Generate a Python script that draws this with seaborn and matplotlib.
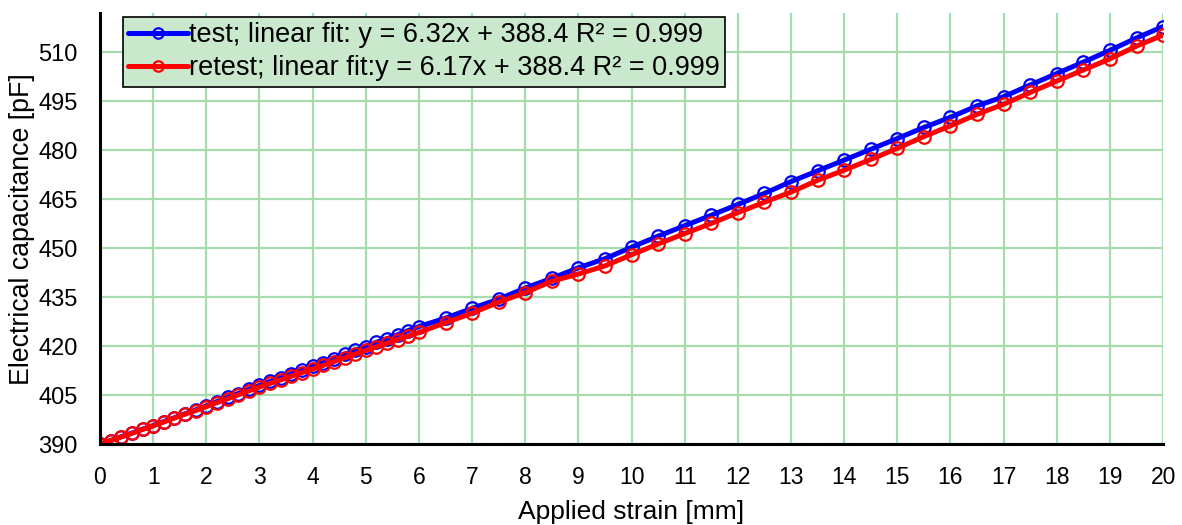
import matplotlib
matplotlib.use("Agg")
import matplotlib.pyplot as plt
import seaborn as sns
import pandas as pd

strain_fine = [0.0, 0.2, 0.4, 0.6, 0.8, 1.0, 1.2, 1.4, 1.6, 1.8, 2.0, 2.2, 2.4, 2.6, 2.8, 3.0,
               3.2, 3.4, 3.6, 3.8, 4.0, 4.2, 4.4, 4.6, 4.8, 5.0, 5.2, 5.4, 5.6, 5.8, 6.0]
strain_coarse = [6.5, 7.0, 7.5, 8.0, 8.5, 9.0, 9.5, 10.0, 10.5, 11.0, 11.5, 12.0, 12.5, 13.0,
                 13.5, 14.0, 14.5, 15.0, 15.5, 16.0, 16.5, 17.0, 17.5, 18.0, 18.5, 19.0, 19.5, 20.0]
strain = strain_fine + strain_coarse

test_values = [390.0, 391.1, 392.3, 393.4, 394.6, 395.7, 396.9, 398.1, 399.3, 400.5, 401.7,
               403.0, 404.3, 405.5, 406.8, 408.0, 409.2, 410.3, 411.5, 412.6, 413.8, 415.0,
               416.2, 417.5, 418.7, 419.9, 421.2, 422.3, 423.5, 424.8, 426.0,
               428.6, 431.6, 434.4, 437.8, 440.8, 444.0, 446.8, 450.3, 453.7, 456.9, 460.1,
               463.4, 466.8, 470.4, 473.7, 477.0, 480.3, 483.6, 487.0, 490.1, 493.6, 496.4,
               500.0, 503.5, 507.0, 510.6, 514.4, 517.9]
retest_values = [390.0, 391.1, 392.2, 393.3, 394.5, 395.6, 396.8, 398.0, 399.2, 400.3, 401.5,
                 402.7, 403.9, 405.1, 406.3, 407.5, 408.6, 409.7, 410.8, 411.9, 413.0, 414.1,
                 415.3, 416.4, 417.6, 418.7, 419.8, 420.9, 422.0, 423.1, 424.2,
                 427.2, 430.1, 433.5, 436.4, 439.9, 442.1, 444.6, 448.0, 451.3, 454.5, 457.6,
                 460.9, 464.1, 467.2, 470.8, 473.9, 477.2, 480.6, 484.2, 487.5, 491.0, 494.1,
                 497.7, 501.2, 504.6, 508.0, 511.9, 515.3]

series_labels = ["test; linear fit: y = 6.32x + 388.4 R\u00b2 = 0.999",
                 "retest; linear fit:y = 6.17x + 388.4 R\u00b2 = 0.999"]
series_colors = ["#0000ff", "#ff0000"]
x_ticks = list(range(0, 21))
y_ticks = [390, 405, 420, 435, 450, 465, 480, 495, 510]

df = pd.DataFrame({
    "strain": strain + strain,
    "cap": test_values + retest_values,
    "series": [series_labels[0]] * len(strain) + [series_labels[1]] * len(strain),
})

sns.set_style("white")
plt.rcParams["font.family"] = ["Liberation Sans", "DejaVu Sans"]
plt.rcParams["text.color"] = "black"
plt.rcParams["axes.labelcolor"] = "black"

fig = plt.figure(figsize=(11.82, 5.25), dpi=100)
ax = fig.add_axes([0.0846, 0.154, 0.8994, 0.821])

sns.lineplot(data=df, x="strain", y="cap", hue="series", palette=series_colors,
             hue_order=series_labels, marker="o", markersize=9, markerfacecolor="none",
             markeredgewidth=1.6, linewidth=3.6, ax=ax, sort=False, errorbar=None,
             dashes=False)
for ln, c in zip(ax.get_lines(), series_colors):
    ln.set_markeredgecolor(c)

ax.set_xlim(0, 20)
ax.set_ylim(390, 522)
ax.set_xticks(x_ticks)
ax.set_yticks(y_ticks)
ax.grid(True, color="#a6dcae", linewidth=1.6)
ax.set_axisbelow(True)
for s in ["top", "right"]:
    ax.spines[s].set_visible(False)
for s in ["left", "bottom"]:
    ax.spines[s].set_color("black")
    ax.spines[s].set_linewidth(2.2)
ax.tick_params(axis="x", direction="in", length=5, width=2, labelsize=16.5,
               colors="black", pad=16)
ax.tick_params(axis="y", direction="in", length=5, width=2, labelsize=17,
               colors="black", pad=16)
ax.set_xlabel("Applied strain [mm]", fontsize=19, labelpad=8)
ax.set_ylabel("Electrical capacitance [pF]", fontsize=19.3, labelpad=2)

leg = ax.legend(loc="upper left", bbox_to_anchor=(0.0216, 0.991), fontsize=19.5,
                frameon=True, fancybox=False, handlelength=2.2, handletextpad=0.05,
                borderpad=0.2, labelspacing=0.25, borderaxespad=0)
for h, c in zip(leg.legend_handles, series_colors):
    h.set_color(c)
    h.set_markeredgecolor(c)
    h.set_markerfacecolor("none")
    h.set_linewidth(3.6)
    h.set_markersize(7.5)
frame = leg.get_frame()
frame.set_facecolor("#c9e8cc")
frame.set_edgecolor("black")
frame.set_linewidth(1.2)
frame.set_alpha(1)

fig.savefig("out.png", dpi=100)
